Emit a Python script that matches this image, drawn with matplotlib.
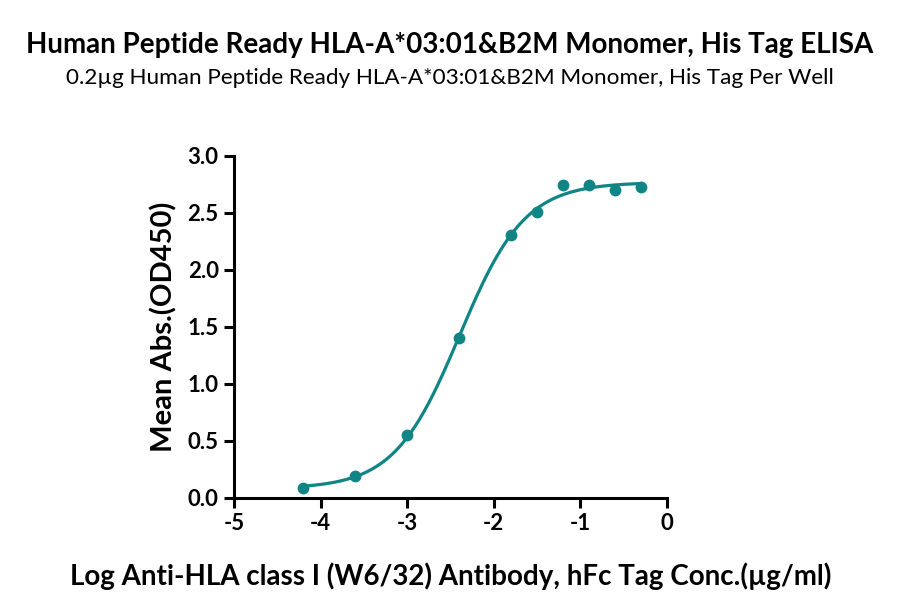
import numpy as np
import matplotlib
matplotlib.use("Agg")
import matplotlib.pyplot as plt

# Data
log_conc = [-4.2, -3.6, -3.0, -2.4, -1.8, -1.5, -1.2, -0.9, -0.6, -0.3]
mean_abs = [0.09, 0.19, 0.55, 1.40, 2.31, 2.51, 2.74, 2.74, 2.70, 2.73]

TITLE = "Human Peptide Ready HLA-A*03:01&B2M Monomer, His Tag ELISA"
SUBTITLE = "0.2\u00b5g Human Peptide Ready HLA-A*03:01&B2M Monomer, His Tag Per Well"
XLABEL = "Log Anti-HLA class I (W6/32) Antibody, hFc Tag Conc.(\u00b5g/ml)"
YLABEL = "Mean Abs.(OD450)"
COLOR = "#0f8585"

plt.rcParams['font.family'] = ['Lato', 'DejaVu Sans']


def four_pl(x, p):
    bottom, top, logec50, hill = p
    return bottom + (top - bottom) / (1 + 10 ** ((logec50 - x) * hill))


def fit_four_pl(x, y, p0, iters=200):
    """Small Gauss-Newton fit of a 4PL curve (no scipy needed)."""
    p = np.array(p0, dtype=float)
    for _ in range(iters):
        r = y - four_pl(x, p)
        J = np.zeros((len(x), len(p)))
        for i in range(len(p)):
            dp = np.zeros_like(p)
            dp[i] = 1e-6
            J[:, i] = (four_pl(x, p + dp) - four_pl(x, p - dp)) / 2e-6
        step, *_ = np.linalg.lstsq(J, r, rcond=None)
        p += 0.5 * step
        if np.max(np.abs(step)) < 1e-9:
            break
    return p


x = np.array(log_conc)
y = np.array(mean_abs)
params = fit_four_pl(x, y, [0.05, 2.75, -2.45, 1.2])
xs = np.linspace(x.min(), x.max(), 300)

fig = plt.figure(figsize=(9, 6.11), dpi=100)
ax = fig.add_axes([0.26, 0.185, 0.481, 0.56])

ax.plot(xs, four_pl(xs, params), color=COLOR, lw=2.3, zorder=2)
ax.scatter(x, y, s=72, color=COLOR, zorder=3, linewidths=0)

ax.set_xlim(-5, 0)
ax.set_ylim(0, 3.0)
ax.set_xticks([-5, -4, -3, -2, -1, 0])
ax.set_xticklabels(["-5", "-4", "-3", "-2", "-1", "0"])
ax.set_yticks([0, 0.5, 1.0, 1.5, 2.0, 2.5, 3.0])
ax.set_yticklabels(["0.0", "0.5", "1.0", "1.5", "2.0", "2.5", "3.0"])

for side in ["top", "right"]:
    ax.spines[side].set_visible(False)
for side in ["left", "bottom"]:
    ax.spines[side].set_linewidth(2.2)
ax.tick_params(width=2.2, length=7, labelsize=16, pad=4)
for lab in ax.get_xticklabels() + ax.get_yticklabels():
    lab.set_fontweight("bold")

ax.set_ylabel(YLABEL, fontsize=21, fontweight="bold", labelpad=7)
ax.set_xlabel(XLABEL, fontsize=20, fontweight="bold", labelpad=20)

fig.text(0.5, 0.927, TITLE, ha="center", va="center", fontsize=20, fontweight="bold")
fig.text(0.5, 0.873, SUBTITLE, ha="center", va="center", fontsize=16.2)

fig.savefig("out.png", dpi=100)
